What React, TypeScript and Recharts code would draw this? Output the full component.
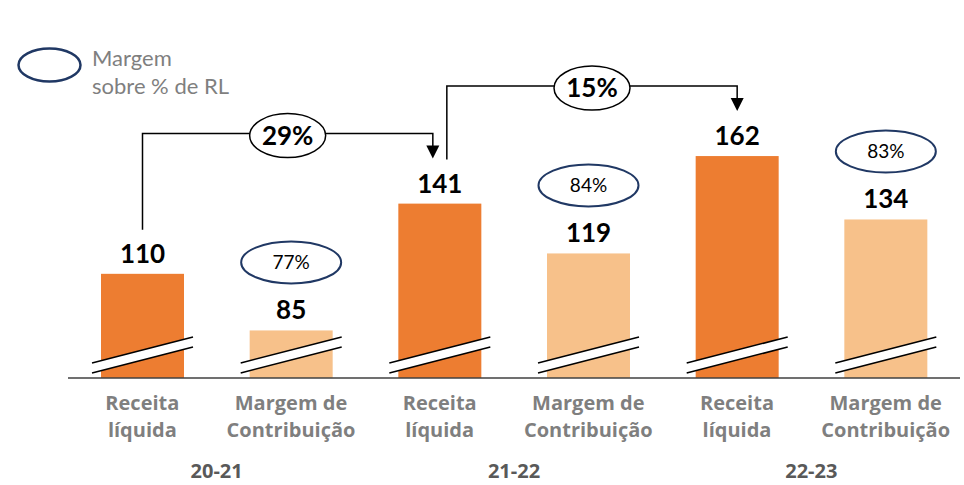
import React from 'react'
import { BarChart, Bar, XAxis, YAxis, Cell, LabelList } from 'recharts'

// bars: Receita líquida / Margem de Contribuição, per period
const categories = [
  'Receita\nlíquida',
  'Margem de\nContribuição',
  'Receita\nlíquida',
  'Margem de\nContribuição',
  'Receita\nlíquida',
  'Margem de\nContribuição'
]
const values = [110, 85, 141, 119, 162, 134]
const periods = ['20-21', '21-22', '22-23']
const marginShare = ['77%', '84%', '83%']
const growth = ['29%', '15%']

const W = 964
const H = 485
const M = { top: 70, right: 4, left: 68, bottom: 7 }
const Y_MIN = 64
const Y_MAX = 200
const STEP = (W - M.left - M.right) / categories.length
const FONT = 'Lato, "Open Sans", sans-serif'
const AXIS_FONT = '"Open Sans", Lato, sans-serif'
const DARK = '#ED7D31'
const LIGHT = '#F7C18A'
const NAVY = '#203864'

const data = categories.map((c, i) => ({ id: i, label: c, value: values[i] }))

function BrokenBar(props: any) {
  const { x, y, width, height, fill } = props
  if (!height) return null
  const b = y + height
  const x0 = x - 9
  const x1 = x + width + 9
  return (
    <g>
      <rect x={x} y={y} width={width} height={height} fill={fill} />
      <polygon points={`${x0},${b - 15} ${x1},${b - 41} ${x1},${b - 31} ${x0},${b - 5}`} fill="#fff" />
      <line x1={x0} y1={b - 15} x2={x1} y2={b - 41} stroke="#000" strokeWidth={1.5} />
      <line x1={x0} y1={b - 5} x2={x1} y2={b - 31} stroke="#000" strokeWidth={1.5} />
    </g>
  )
}

function BarLabel(props: any) {
  const vb = props.viewBox || {}
  const x = props.x ?? vb.x
  const y = props.y ?? vb.y
  const width = props.width ?? vb.width
  const height = props.height ?? vb.height
  const value = Number(props.value)
  const index = props.index ?? values.indexOf(value)
  const cx = x + width / 2
  const els: React.ReactNode[] = [
    <text key="v" x={cx} y={y - 11} textAnchor="middle" fontFamily={FONT} fontWeight={700} fontSize={26} fill="#000">
      {value}
    </text>
  ]

  if (index % 2 === 1) {
    const ey = y - 68
    els.push(
      <g key="m">
        <ellipse cx={cx} cy={ey} rx={50} ry={21} fill="none" stroke={NAVY} strokeWidth={2} />
        <text x={cx} y={ey + 7} textAnchor="middle" fontFamily={FONT} fontSize={19} fill="#000">
          {marginShare[(index - 1) / 2]}
        </text>
      </g>
    )
  }

  const g = index / 2
  if (index % 2 === 0 && g < growth.length) {
    // scale from this bar, to place the arrow over the next Receita bar
    const k = height / (value - Y_MIN)
    const bottom = y + height
    const tTop = bottom - (values[index + 2] - Y_MIN) * k
    const sx = cx + (index > 0 ? 7 : 0)
    const tx = cx + 2 * STEP - (g + 1 < growth.length ? 7 : 0)
    const sy = y - 44
    const hy = tTop - 70
    const tip = tTop - 45
    const mx = (sx + tx) / 2
    els.push(
      <g key="a">
        <polyline points={`${sx},${sy} ${sx},${hy} ${tx},${hy} ${tx},${tip - 12}`} fill="none" stroke="#000" strokeWidth={1.5} />
        <polygon points={`${tx - 6.5},${tip - 13} ${tx + 6.5},${tip - 13} ${tx},${tip}`} fill="#000" />
        <ellipse cx={mx} cy={hy + 2} rx={38} ry={22} fill="#fff" stroke="#000" strokeWidth={1.5} />
        <text x={mx} y={hy + 11} textAnchor="middle" fontFamily={FONT} fontWeight={700} fontSize={26} fill="#000">
          {growth[g]}
        </text>
      </g>
    )
  }
  return <g>{els}</g>
}

function CategoryTick(props: any) {
  const { x, y, payload } = props
  const i = Number(payload.value)
  const lines = categories[i].split('\n')
  return (
    <g>
      {lines.map((l, j) => (
        <text key={j} x={x} y={y + 24 + j * 27} textAnchor="middle" fontFamily={AXIS_FONT} fontWeight={700} fontSize={20} fill="#7F7F7F">
          {l}
        </text>
      ))}
      {i % 2 === 0 && (
        <text x={x + STEP / 2} y={y + 92} textAnchor="middle" fontFamily={AXIS_FONT} fontWeight={700} fontSize={20} fill="#595959">
          {periods[i / 2]}
        </text>
      )}
    </g>
  )
}

export default function App() {
  return (
    <div style={{ position: 'absolute', left: 0, top: 0, width: W, height: H, background: '#fff' }}>
      <BarChart width={W} height={H} data={data} margin={M}>
        <XAxis
          dataKey="id"
          height={100}
          interval={0}
          tickLine={false}
          axisLine={{ stroke: '#404040', strokeWidth: 1.5 }}
          tick={<CategoryTick />}
        />
        <YAxis hide domain={[Y_MIN, Y_MAX]} allowDataOverflow />
        <Bar dataKey="value" barSize={83} shape={<BrokenBar />} isAnimationActive={false}>
          {data.map((d, i) => (
            <Cell key={d.id} fill={i % 2 === 0 ? DARK : LIGHT} />
          ))}
          <LabelList dataKey="value" content={<BarLabel />} />
        </Bar>
      </BarChart>
      <svg width={260} height={110} style={{ position: 'absolute', left: 0, top: 0, pointerEvents: 'none' }}>
        <ellipse cx={49.5} cy={65} rx={31} ry={16.5} fill="none" stroke={NAVY} strokeWidth={2.5} />
        <text x={92} y={66} fontFamily={FONT} fontSize={22} fill="#7F7F7F">Margem</text>
        <text x={92} y={94} fontFamily={FONT} fontSize={22} fill="#7F7F7F">sobre % de RL</text>
      </svg>
    </div>
  )
}
